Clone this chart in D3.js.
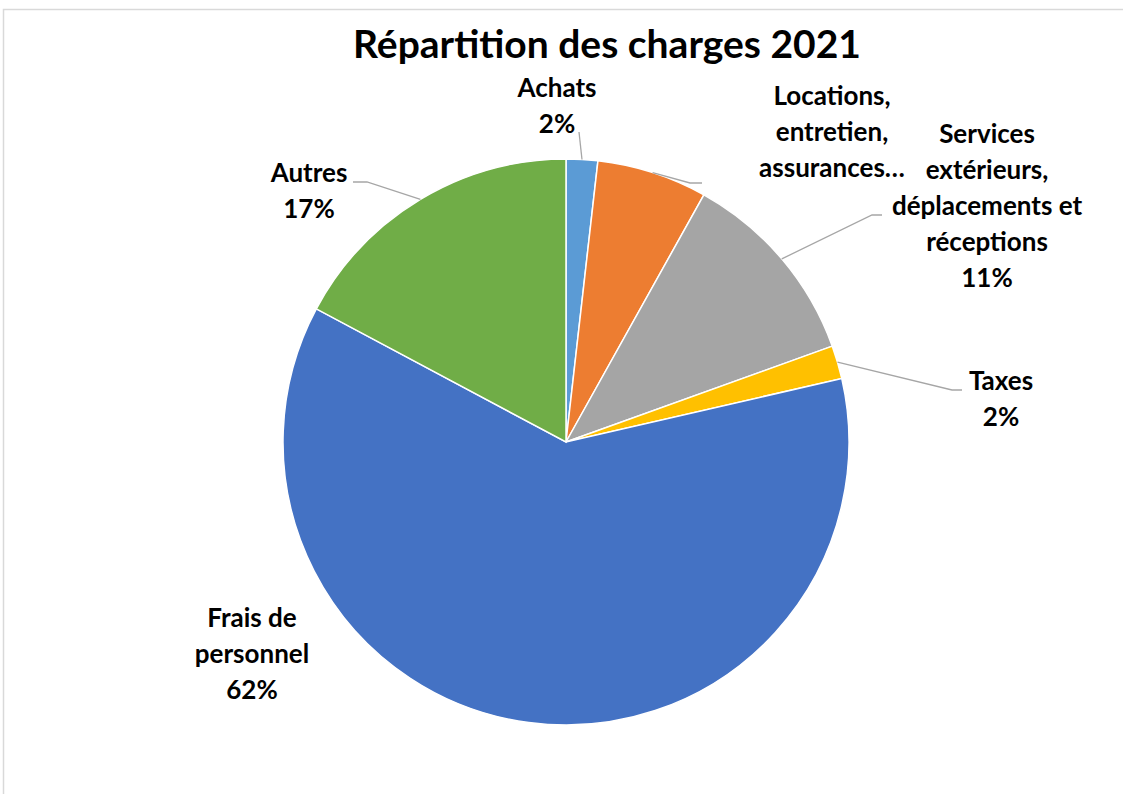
<!DOCTYPE html>
<html>
<head>
<meta charset="utf-8">
<script src="https://cdn.jsdelivr.net/npm/d3@7"></script>
<style>
  body { margin: 0; background: #fff; }
  text { font-family: Lato, "Open Sans", sans-serif; font-weight: bold; fill: #000; }
</style>
</head>
<body>
<div id="chart"></div>
<script>
var width = 1123,
    height = 794,
    radius = 283,
    cx = 566,
    cy = 442;

// parts of the charges, in percent, clockwise from 12 o'clock
var categories = ["Achats", "Locations, entretien, assurances…", "Services extérieurs, déplacements et réceptions", "Taxes", "Frais de personnel", "Autres"];
var values = [1.8, 6.3, 11.4, 1.9, 61.4, 17.2];
var percentLabels = ["2%", "6%", "11%", "2%", "62%", "17%"];
var colors = ["#5B9BD5", "#ED7D31", "#A5A5A5", "#FFC000", "#4472C4", "#70AD47"];

// how each label is written (lines), and where Excel put it
var labelLines = [
  ["Achats", "2%"],
  ["Locations,", "entretien,", "assurances…"],
  ["Services", "extérieurs,", "déplacements et", "réceptions", "11%"],
  ["Taxes", "2%"],
  ["Frais de", "personnel", "62%"],
  ["Autres", "17%"]
];
var labelPos = [[557, 97], [832, 105], [987, 143], [1001, 390], [252, 627], [309, 182]];
var leaderBends = [
  [[579, 132]],
  [[690, 183], [702, 183]],
  [[872, 215], [882, 215]],
  [[952, 390], [962, 390]],
  null,
  [[367, 182], [353, 182]]
];

var data = categories.map(function(c, i){
  return {name: c, value: values[i], color: colors[i], lines: labelLines[i], pos: labelPos[i], bends: leaderBends[i]};
});

var svg = d3.select("#chart").append("svg")
    .attr("width", width)
    .attr("height", height);

// light frame of the chart area
svg.append("path")
    .attr("d", "M3.5," + height + " V9.5 H" + width)
    .attr("fill", "none")
    .attr("stroke", "#d9d9d9")
    .attr("stroke-width", 1.5);

svg.append("text")
    .attr("x", 607)
    .attr("y", 58)
    .attr("text-anchor", "middle")
    .style("font-size", "39px")
    .text("Répartition des charges 2021");

var pie = d3.pie().sort(null).value(function(d){ return d.value; });
var arc = d3.arc().innerRadius(0).outerRadius(radius);
var arcs = pie(data);

var g = svg.append("g").attr("transform", "translate(" + cx + "," + cy + ")");

g.selectAll("path.slice")
    .data(arcs)
  .enter().append("path")
    .attr("class", "slice")
    .attr("d", arc)
    .attr("fill", function(d){ return d.data.color; })
    .attr("stroke", "#fff")
    .attr("stroke-width", 1.5);

// leader lines from the rim at the middle of each slice
var line = d3.line();
svg.selectAll("path.leader")
    .data(arcs.filter(function(d){ return d.data.bends; }))
  .enter().append("path")
    .attr("class", "leader")
    .attr("fill", "none")
    .attr("stroke", "#a6a6a6")
    .attr("stroke-width", 1.3)
    .attr("d", function(d){
      var a = (d.startAngle + d.endAngle) / 2;
      var start = [cx + radius * Math.sin(a), cy - radius * Math.cos(a)];
      return line([start].concat(d.data.bends));
    });

var labels = svg.selectAll("text.label")
    .data(data)
  .enter().append("text")
    .attr("class", "label")
    .attr("text-anchor", "middle")
    .style("font-size", "26px");

labels.selectAll("tspan")
    .data(function(d){ return d.lines.map(function(l){ return {t: l, x: d.pos[0], y: d.pos[1]}; }); })
  .enter().append("tspan")
    .attr("x", function(d){ return d.x; })
    .attr("y", function(d, i){ return d.y + i * 36; })
    .text(function(d){ return d.t; });
</script>
</body>
</html>
